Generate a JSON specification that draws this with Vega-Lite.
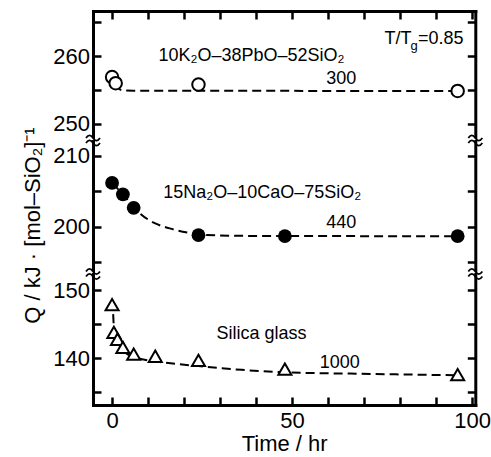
{
  "$schema": "https://vega.github.io/schema/vega-lite/v6.json",
  "background": "white",
  "padding": {"left": 21, "top": 9, "right": 5, "bottom": 5},
  "spacing": 0,
  "bounds": "flush",
  "config": {
    "view": {"stroke": null},
    "font": "Liberation Sans",
    "axis": {
      "grid": false,
      "domainColor": "black",
      "domainWidth": 3,
      "domainCap": "square",
      "tickColor": "black",
      "tickWidth": 2.5,
      "tickSize": -8,
      "tickCap": "butt",
      "labelFont": "Liberation Sans",
      "labelFontSize": 22,
      "labelColor": "black",
      "labelPadding": 11.5,
      "titleFont": "Liberation Sans",
      "titleFontSize": 22,
      "titleFontWeight": "normal",
      "titleColor": "black"
    }
  },
  "datasets": {
    "kpb_pts": [
      {"t": 0, "q": 256.9}, {"t": 1, "q": 256.0}, {"t": 24, "q": 255.8}, {"t": 96, "q": 254.85}
    ],
    "kpb_fit": [
      {"t": 1, "q": 256.0}, {"t": 2, "q": 255.15}, {"t": 3, "q": 254.95}, {"t": 6, "q": 254.9},
      {"t": 24, "q": 254.88}, {"t": 96, "q": 254.85}
    ],
    "nca_pts": [
      {"t": 0, "q": 206.2}, {"t": 3, "q": 204.6}, {"t": 6, "q": 202.7}, {"t": 24, "q": 198.85},
      {"t": 48, "q": 198.7}, {"t": 96, "q": 198.7}
    ],
    "nca_fit": [
      {"t": 0, "q": 206.2}, {"t": 3, "q": 204.6}, {"t": 6, "q": 202.8}, {"t": 8, "q": 201.8},
      {"t": 12, "q": 200.5}, {"t": 16, "q": 199.8}, {"t": 21, "q": 199.2}, {"t": 24, "q": 198.95},
      {"t": 36, "q": 198.75}, {"t": 96, "q": 198.7}
    ],
    "sil_pts": [
      {"t": 0, "q": 147.9}, {"t": 0.5, "q": 143.8}, {"t": 1.5, "q": 142.8}, {"t": 3, "q": 141.6},
      {"t": 6, "q": 140.6}, {"t": 12, "q": 140.3}, {"t": 24, "q": 139.7}, {"t": 48, "q": 138.4},
      {"t": 96, "q": 137.6}
    ],
    "sil_fit": [
      {"t": 0.3, "q": 146.5}, {"t": 0.5, "q": 144.6}, {"t": 1, "q": 143.3}, {"t": 1.5, "q": 142.5},
      {"t": 3, "q": 141.2}, {"t": 6, "q": 140.2}, {"t": 9, "q": 139.8}, {"t": 12, "q": 139.55},
      {"t": 24, "q": 138.85}, {"t": 36, "q": 138.3}, {"t": 48, "q": 137.95}, {"t": 72, "q": 137.7},
      {"t": 96, "q": 137.5}
    ],
    "top_labels": [
      {"t": 12.9, "q": 259.2, "txt": "10K₂O–38PbO–52SiO₂"},
      {"t": 59.5, "q": 255.9, "txt": "300"}
    ],
    "mid_labels": [
      {"t": 14.2, "q": 204.1, "txt": "15Na₂O–10CaO–75SiO₂"},
      {"t": 59.5, "q": 199.9, "txt": "440"}
    ],
    "bot_labels": [
      {"t": 29, "q": 142.8, "txt": "Silica glass"},
      {"t": 57.7, "q": 138.6, "txt": "1000"}
    ],
    "ratio": [{"t": 75.7, "q": 261.8}],
    "top_breaks": [{"t": -5.3, "q": 247.54}, {"t": 100.9, "q": 247.54}],
    "mid_breaks": [{"t": -5.3, "q": 193.38}, {"t": 100.9, "q": 193.38}]
  },
  "vconcat": [
    {
      "width": 382.3,
      "height": 129.5,
      "encoding": {
        "x": {"field": "t", "type": "quantitative",
              "scale": {"domain": [-5.3, 100.9], "nice": false, "zero": false},
              "axis": {"orient": "top", "values": [0, 10, 20, 30, 40, 50, 60, 70, 80, 90, 100], "labels": false, "title": null}},
        "y": {"field": "q", "type": "quantitative",
              "scale": {"domain": [247.54, 266.65], "nice": false, "zero": false}, "axis": null}
      },
      "resolve": {"axis": {"y": "independent"}},
      "layer": [
        {
          "data": {"name": "kpb_fit"},
          "mark": {"type": "line", "color": "black", "strokeWidth": 2, "strokeDash": [9, 5], "interpolate": "monotone"},
          "encoding": {
            "y": {"field": "q", "type": "quantitative",
                  "scale": {"domain": [247.54, 266.65], "nice": false, "zero": false},
                  "axis": {"orient": "left", "values": [250, 255, 260, 265],
                           "labelExpr": "datum.value % 10 === 0 ? datum.label : ''", "title": null}}
          }
        },
        {
          "data": {"name": "kpb_pts"},
          "mark": {"type": "point", "shape": "circle", "size": 156, "filled": true, "fill": "white", "stroke": "black", "strokeWidth": 2, "opacity": 1},
          "encoding": {
            "y": {"field": "q", "type": "quantitative",
                  "scale": {"domain": [247.54, 266.65], "nice": false, "zero": false},
                  "axis": {"orient": "right", "values": [250, 255, 260, 265], "labels": false, "title": null}}
          }
        },
        {
          "data": {"name": "top_labels"},
          "mark": {"type": "text", "align": "left", "baseline": "alphabetic", "fontSize": 18, "color": "black"},
          "encoding": {"text": {"field": "txt"}}
        },
        {
          "data": {"name": "ratio"},
          "mark": {"type": "text", "text": "T/T", "align": "left", "baseline": "alphabetic", "fontSize": 18, "color": "black"}
        },
        {
          "data": {"name": "ratio"},
          "mark": {"type": "text", "text": "g", "align": "left", "baseline": "alphabetic", "fontSize": 13, "dx": 26, "dy": 6, "color": "black"}
        },
        {
          "data": {"name": "ratio"},
          "mark": {"type": "text", "text": "=0.85", "align": "left", "baseline": "alphabetic", "fontSize": 18, "dx": 33.4, "color": "black"}
        },
        {
          "data": {"name": "top_breaks"},
          "mark": {"type": "point", "shape": "M-1,-0.35 C-0.66,-0.85 -0.33,-0.85 0,-0.35 S0.66,0.15 1,-0.35 L1,0.35 C0.66,0.85 0.33,0.85 0,0.35 C-0.33,-0.15 -0.66,-0.15 -1,0.35 Z", "size": 196, "filled": true, "fill": "white", "strokeWidth": 0, "opacity": 1}
        },
        {
          "data": {"name": "top_breaks"},
          "mark": {"type": "point", "shape": "M-1,-0.35 C-0.66,-0.85 -0.33,-0.85 0,-0.35 S0.66,0.15 1,-0.35 M-1,0.35 C-0.66,-0.15 -0.33,-0.15 0,0.35 S0.66,0.85 1,0.35", "size": 196, "filled": false, "stroke": "black", "strokeWidth": 1.8, "opacity": 1}
        }
      ]
    },
    {
      "width": 382.3,
      "height": 133,
      "encoding": {
        "x": {"field": "t", "type": "quantitative",
              "scale": {"domain": [-5.3, 100.9], "nice": false, "zero": false}, "axis": null},
        "y": {"field": "q", "type": "quantitative",
              "scale": {"domain": [193.38, 212.11], "nice": false, "zero": false}, "axis": null}
      },
      "resolve": {"axis": {"y": "independent"}},
      "layer": [
        {
          "data": {"name": "nca_fit"},
          "mark": {"type": "line", "color": "black", "strokeWidth": 2, "strokeDash": [9, 5], "interpolate": "monotone"},
          "encoding": {
            "y": {"field": "q", "type": "quantitative",
                  "scale": {"domain": [193.38, 212.11], "nice": false, "zero": false},
                  "axis": {"orient": "left", "values": [195, 200, 205, 210],
                           "labelExpr": "datum.value % 10 === 0 ? datum.label : ''",
                           "title": "Q / kJ · [mol–SiO₂]⁻¹", "titleAngle": -90, "titleX": -53.2, "titleY": 84,
                           "titleAlign": "center", "titleBaseline": "alphabetic", "titleFontWeight": "normal"}}
          }
        },
        {
          "data": {"name": "nca_pts"},
          "mark": {"type": "point", "shape": "circle", "size": 190, "filled": true, "fill": "black", "strokeWidth": 0, "opacity": 1},
          "encoding": {
            "y": {"field": "q", "type": "quantitative",
                  "scale": {"domain": [193.38, 212.11], "nice": false, "zero": false},
                  "axis": {"orient": "right", "values": [195, 200, 205, 210], "labels": false, "title": null}}
          }
        },
        {
          "data": {"name": "mid_labels"},
          "mark": {"type": "text", "align": "left", "baseline": "alphabetic", "fontSize": 18, "color": "black"},
          "encoding": {"text": {"field": "txt"}}
        },
        {
          "data": {"name": "mid_breaks"},
          "mark": {"type": "point", "shape": "M-1,-0.35 C-0.66,-0.85 -0.33,-0.85 0,-0.35 S0.66,0.15 1,-0.35 L1,0.35 C0.66,0.85 0.33,0.85 0,0.35 C-0.33,-0.15 -0.66,-0.15 -1,0.35 Z", "size": 196, "filled": true, "fill": "white", "strokeWidth": 0, "opacity": 1}
        },
        {
          "data": {"name": "mid_breaks"},
          "mark": {"type": "point", "shape": "M-1,-0.35 C-0.66,-0.85 -0.33,-0.85 0,-0.35 S0.66,0.15 1,-0.35 M-1,0.35 C-0.66,-0.15 -0.33,-0.15 0,0.35 S0.66,0.85 1,0.35", "size": 196, "filled": false, "stroke": "black", "strokeWidth": 1.8, "opacity": 1}
        }
      ]
    },
    {
      "width": 382.3,
      "height": 131,
      "encoding": {
        "x": {"field": "t", "type": "quantitative",
              "scale": {"domain": [-5.3, 100.9], "nice": false, "zero": false},
              "axis": {"orient": "bottom", "values": [0, 10, 20, 30, 40, 50, 60, 70, 80, 90, 100],
                       "labelExpr": "datum.value % 50 === 0 ? datum.label : ''", "labelPadding": 14,
                       "title": "Time / hr", "titleY": 46, "titleBaseline": "alphabetic", "titleFontWeight": "normal"}},
        "y": {"field": "q", "type": "quantitative",
              "scale": {"domain": [133.13, 152.4], "nice": false, "zero": false}, "axis": null}
      },
      "resolve": {"axis": {"y": "independent"}},
      "layer": [
        {
          "data": {"name": "sil_fit"},
          "mark": {"type": "line", "color": "black", "strokeWidth": 2, "strokeDash": [9, 5], "interpolate": "monotone"},
          "encoding": {
            "y": {"field": "q", "type": "quantitative",
                  "scale": {"domain": [133.13, 152.4], "nice": false, "zero": false},
                  "axis": {"orient": "left", "values": [135, 140, 145, 150],
                           "labelExpr": "datum.value % 10 === 0 ? datum.label : ''", "title": null}}
          }
        },
        {
          "data": {"name": "sil_pts"},
          "mark": {"type": "point", "shape": "triangle-up", "size": 170, "filled": true, "fill": "white", "stroke": "black", "strokeWidth": 2, "opacity": 1},
          "encoding": {
            "y": {"field": "q", "type": "quantitative",
                  "scale": {"domain": [133.13, 152.4], "nice": false, "zero": false},
                  "axis": {"orient": "right", "values": [135, 140, 145, 150], "labels": false, "title": null}}
          }
        },
        {
          "data": {"name": "bot_labels"},
          "mark": {"type": "text", "align": "left", "baseline": "alphabetic", "fontSize": 18, "color": "black"},
          "encoding": {"text": {"field": "txt"}}
        }
      ]
    }
  ]
}
